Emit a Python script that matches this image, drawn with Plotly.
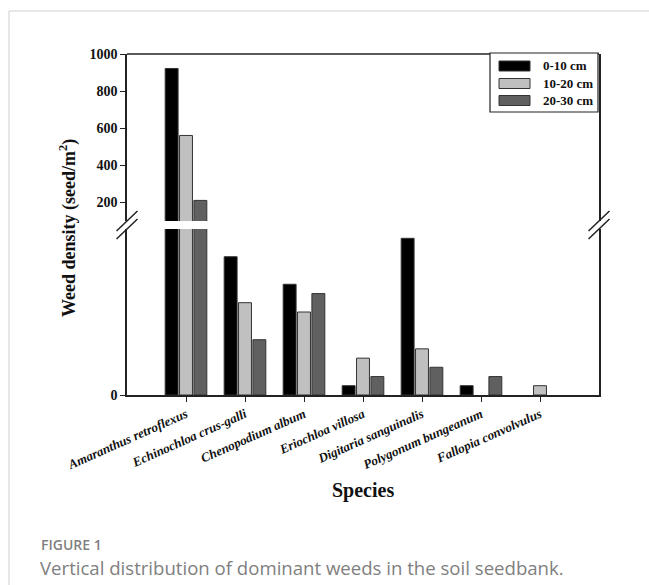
import plotly.graph_objects as go

# ---- data -----------------------------------------------------------------
species = [
    "Amaranthus retroflexus",
    "Echinochloa crus-galli",
    "Chenopodium album",
    "Eriochloa villosa",
    "Digitaria sanguinalis",
    "Polygonum bungeanum",
    "Fallopia convolvulus",
]
depth_labels = ["0-10 cm", "10-20 cm", "20-30 cm"]
density_0_10 = [922, 83.3, 66.7, 5.6, 94.4, 5.6, 0]
density_10_20 = [561, 55.6, 50.0, 22.2, 27.8, 0, 5.6]
density_20_30 = [211, 33.3, 61.1, 11.1, 16.7, 11.1, 0]
series = [density_0_10, density_10_20, density_20_30]

upper_ticks = [200, 400, 600, 800, 1000]
lower_range = [0, 100]
upper_range = [100, 1000]

# ---- geometry ---------------------------------------------------------------
W, H = 649, 585
L, R, T, B = 127, 50, 54, 190
PW, PH = W - L - R, H - T - B


def px(x):
    return (x - L) / PW


def py(y):
    return (H - B - y) / PH


lower_top = 229
upper_bottom = 221

colors = ["#000000", "#c0c0c0", "#606060"]
edge = "#333333"
serif = "Liberation Serif"

fig = go.Figure()
for vals, col, name in zip(series, colors, depth_labels):
    # empty bars get no outline so nothing shows on the baseline
    widths = [1 if v > 0 else 0 for v in vals]
    for ax in ("y", "y2"):
        fig.add_trace(go.Bar(
            x=list(range(len(species))), y=vals, name=name, yaxis=ax,
            marker=dict(color=col, line=dict(color=edge, width=widths)),
            showlegend=False, hoverinfo="x+y+name",
        ))

axis_line = dict(showline=True, linecolor="#222222", linewidth=1.5,
                 showgrid=False, zeroline=False)

fig.update_layout(
    width=W, height=H,
    margin=dict(l=L, r=R, t=T, b=B, pad=0),
    paper_bgcolor="white", plot_bgcolor="white",
    barmode="group", bargap=0.27, bargroupgap=0.1,
    xaxis=dict(
        **axis_line, anchor="y",
        range=[-1, len(species)],
        tickmode="array", tickvals=list(range(len(species))), ticktext=species,
        ticks="outside", ticklen=5, tickcolor="#222222", tickwidth=1.2,
        tickangle=-24,
        tickfont=dict(family=serif, size=13, color="#111111",
                      weight="bold", style="italic"),
    ),
    yaxis=dict(
        **axis_line, mirror=True,
        domain=[0, py(lower_top)], range=lower_range,
        tickmode="array", tickvals=[0], ticktext=["0"],
        ticks="outside", ticklen=5, tickcolor="#222222", tickwidth=1.2,
        tickfont=dict(family=serif, size=14, color="#111111", weight="bold"),
    ),
    yaxis2=dict(
        **axis_line, mirror=True, anchor="x",
        domain=[py(upper_bottom), 1], range=upper_range,
        tickmode="array", tickvals=upper_ticks,
        ticks="outside", ticklen=5, tickcolor="#222222", tickwidth=1.2,
        tickfont=dict(family=serif, size=14, color="#111111", weight="bold"),
    ),
)

shapes = []
# top border of the plot frame
shapes.append(dict(type="line", xref="paper", yref="paper",
                   x0=0, x1=1, y0=1, y1=1,
                   line=dict(color="#222222", width=1.5)))
# axis-break marks on both sides
for cx in (L, L + PW):
    for dy in (0, 8):
        shapes.append(dict(type="line", xref="paper", yref="paper",
                           x0=px(cx - 10.5), y0=py(231 + dy),
                           x1=px(cx + 10.5), y1=py(211 + dy),
                           line=dict(color="#222222", width=1.5)))
# legend box and swatches
shapes.append(dict(type="rect", xref="paper", yref="paper",
                   x0=px(490), x1=px(598), y0=py(112), y1=py(53),
                   line=dict(color="#222222", width=1.2), fillcolor="white"))
legend_rows = [66, 83.5, 100.5]
for yc, col in zip(legend_rows, colors):
    shapes.append(dict(type="rect", xref="paper", yref="paper",
                       x0=px(499), x1=px(530), y0=py(yc + 5), y1=py(yc - 5),
                       line=dict(color=edge, width=1), fillcolor=col))
# card outline
shapes.append(dict(type="line", xref="paper", yref="paper",
                   x0=px(9), x1=px(W + 5), y0=py(11), y1=py(11),
                   line=dict(color="#cfcfcf", width=1)))
shapes.append(dict(type="line", xref="paper", yref="paper",
                   x0=px(9), x1=px(9), y0=py(11), y1=py(H + 5),
                   line=dict(color="#cfcfcf", width=1)))

annotations = []
for yc, name in zip(legend_rows, depth_labels):
    annotations.append(dict(xref="paper", yref="paper", x=px(541), y=py(yc),
                            xanchor="left", yanchor="middle", showarrow=False,
                            text=name,
                            font=dict(family=serif, size=13, color="#111111",
                                      weight="bold")))
annotations.append(dict(xref="paper", yref="paper", x=px(68), y=py(228),
                        xanchor="center", yanchor="middle", showarrow=False,
                        textangle=-90,
                        text="Weed density (seed/m<sup>2</sup>)",
                        font=dict(family=serif, size=18, color="#111111",
                                  weight="bold")))
annotations.append(dict(xref="paper", yref="paper", x=0.5, y=py(490),
                        xanchor="center", yanchor="middle", showarrow=False,
                        text="Species",
                        font=dict(family=serif, size=20, color="#111111",
                                  weight="bold")))
annotations.append(dict(xref="paper", yref="paper", x=px(39), y=py(544),
                        xanchor="left", yanchor="middle", showarrow=False,
                        text="FIGURE 1",
                        font=dict(family="Open Sans", size=14, color="#808080",
                                  weight=600)))
annotations.append(dict(xref="paper", yref="paper", x=px(38), y=py(567),
                        xanchor="left", yanchor="middle", showarrow=False,
                        text="Vertical distribution of dominant weeds in the soil seedbank.",
                        font=dict(family="Open Sans", size=18.6, color="#808080")))

fig.update_layout(shapes=shapes, annotations=annotations)
fig.write_html("out.html")
